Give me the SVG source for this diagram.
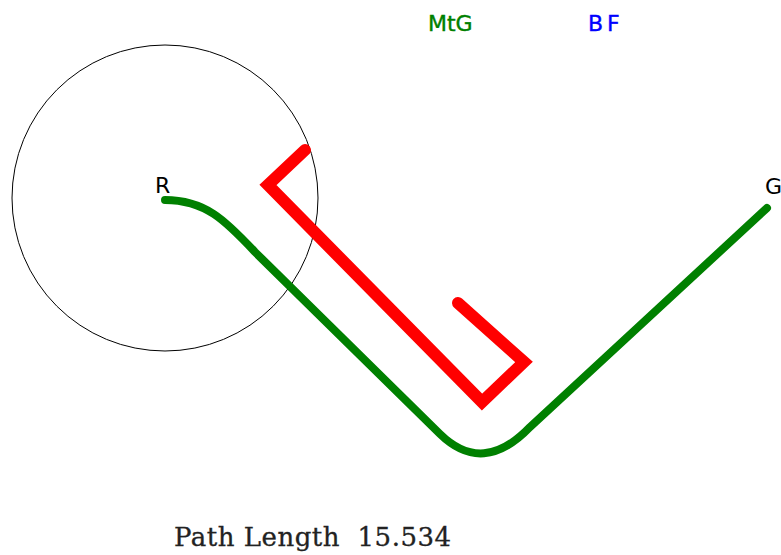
<svg xmlns="http://www.w3.org/2000/svg" width="781" height="555" viewBox="0 0 781 555">
<style>
.lbl{font-family:"DejaVu Sans","Liberation Sans",sans-serif;font-size:22px}
</style>
<rect width="781" height="555" fill="#fff"/>
<g id="range">
<circle cx="165" cy="198" r="153" fill="none" stroke="#000" stroke-width="1"/>
</g>
<g id="labels">
<text class="lbl" x="155" y="193" fill="#000" font-size="19">R</text>
<text class="lbl" x="765" y="194" fill="#000" font-size="19">G</text>
<text class="lbl" x="428" y="31" fill="#008000" stroke="#008000" stroke-width="0.4">MtG</text>
<text class="lbl" x="588" y="31" fill="#0000ff" stroke="#0000ff" stroke-width="0.4" letter-spacing="4">BF</text>
<text x="174" y="546" font-family="DejaVu Serif,serif" font-size="26" letter-spacing="0.5" fill="#222" stroke="#222" stroke-width="0.3" xml:space="preserve">Path Length  15.534</text>
</g>
<g id="connectors">
<path id="mtg" d="M165,200 C205,200 225,220 255,252 L440,434 Q483,476 530,427 L767,208" fill="none" stroke="#008000" stroke-width="8" stroke-linecap="round"/>
<path id="bf" d="M305,150 L268,185 L482,402 L524,362 L458,303" fill="none" stroke="#ff0000" stroke-width="12" stroke-linecap="round" stroke-linejoin="miter"/>
</g>
</svg>
